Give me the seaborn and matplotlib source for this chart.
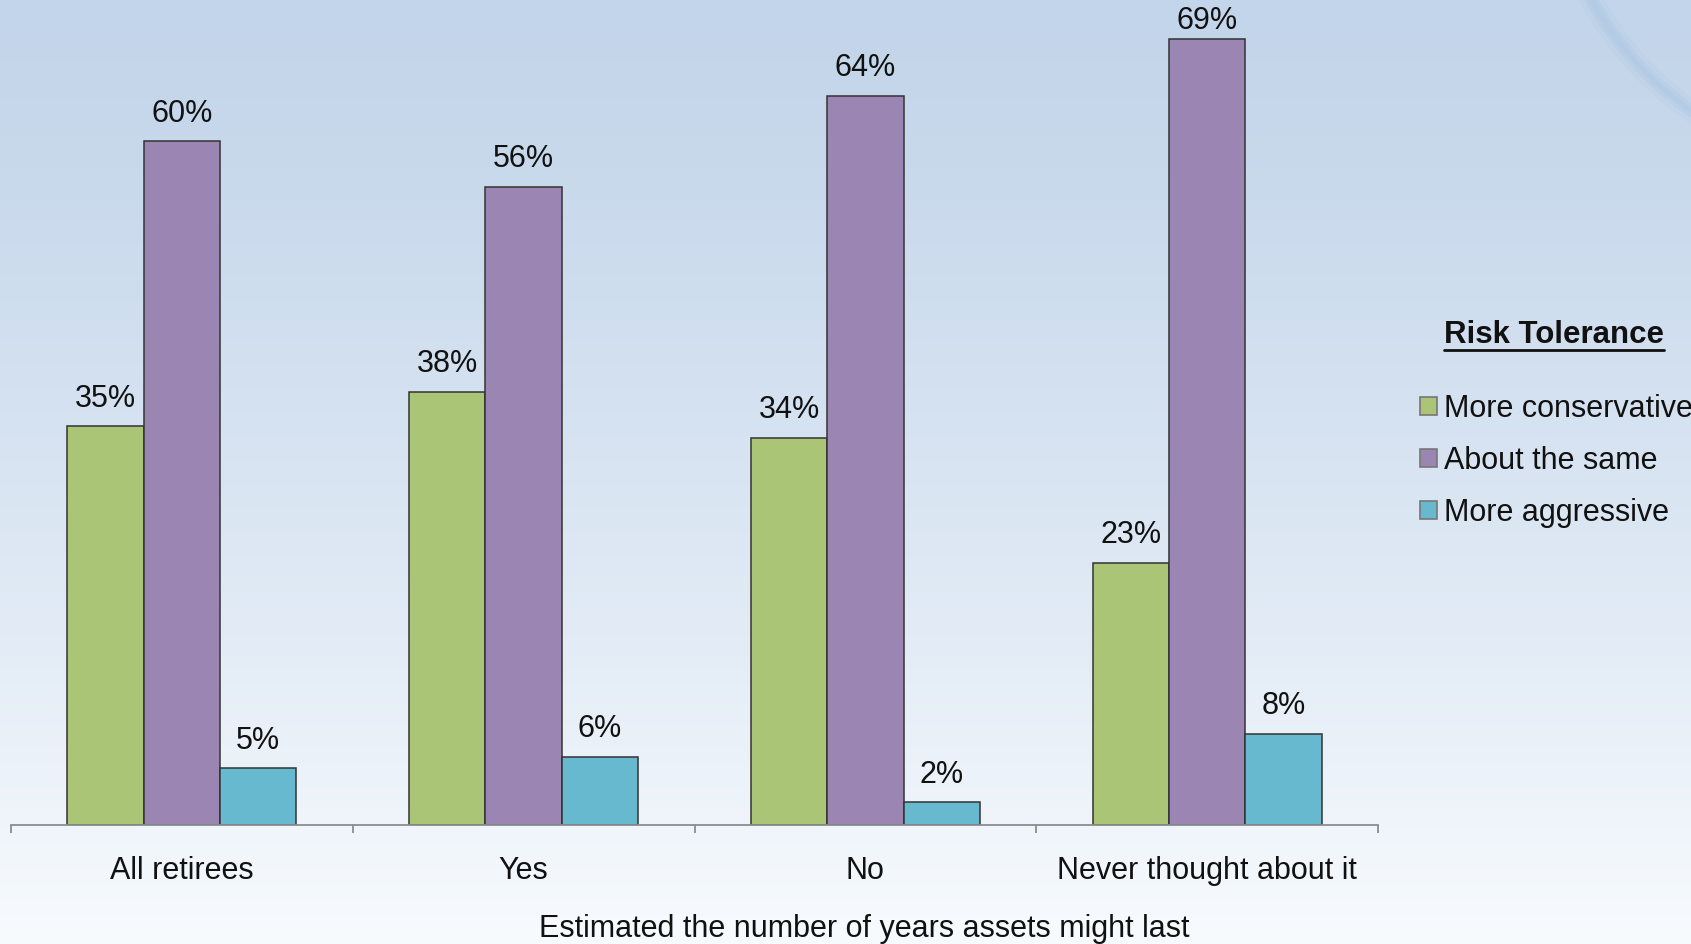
import numpy as np
import pandas as pd
import matplotlib.pyplot as plt
import seaborn as sns
from matplotlib.lines import Line2D
from matplotlib.patches import Circle

# Chart data
groups = ["All retirees", "Yes", "No", "Never thought about it"]
series = ["More conservative", "About the same", "More aggressive"]
more_conservative = [35, 38, 34, 23]
about_same = [60, 56, 64, 69]
more_aggressive = [5, 6, 2, 8]
colors = ["#abc577", "#9b85b3", "#67b9cf"]

df = pd.DataFrame({
    "group": groups * 3,
    "tolerance": [series[0]] * 4 + [series[1]] * 4 + [series[2]] * 4,
    "pct": more_conservative + about_same + more_aggressive,
})

sns.set_style("white")
plt.rcParams["font.family"] = ["Liberation Sans", "DejaVu Sans"]

fig = plt.figure(figsize=(16.91, 9.44), dpi=100)

# Background gradient (light blue at top fading to white)
bg = fig.add_axes([0, 0, 1, 1], zorder=-10)
t = np.linspace(0, 1, 400)[:, None] ** 1.3
top = np.array([195, 213, 234]) / 255
bot = np.array([248, 251, 254]) / 255
grad = top + (bot - top) * t[..., None]
grad = np.repeat(grad, 10, axis=1)
bg.imshow(grad, aspect="auto", extent=[0, 1691, 944, 0])
for lw, a in [(16, 0.15), (9, 0.25), (4, 0.3)]:
    bg.add_patch(Circle((1880, -160), 330, fill=False, lw=lw, ec="#a8c5e3", alpha=a))
bg.set_xlim(0, 1691)
bg.set_ylim(944, 0)
bg.axis("off")

ax = fig.add_axes([11 / 1691, 119 / 944, (1378 - 11) / 1691, 825 / 944])
ax.set_facecolor("none")

sns.barplot(data=df, x="group", y="pct", hue="tolerance", order=groups,
            hue_order=series, palette=colors, saturation=1, width=0.67,
            edgecolor="#333333", linewidth=1.1, ax=ax)

value_labels = []
for cont in ax.containers:
    value_labels += ax.bar_label(cont, labels=[f"{v:.0f}%" for v in cont.datavalues],
                                 padding=9, fontsize=22, color="#111111")

ax.set_xlim(-0.5, 3.5)
ax.set_ylim(0, 72.4)
ax.set_yticks([])
ax.set_ylabel("")
ax.set_xlabel("")
for s in ["top", "right", "left"]:
    ax.spines[s].set_visible(False)
ax.spines["bottom"].set_color("#8c8c8c")
ax.spines["bottom"].set_linewidth(1.3)

ax.set_xticks(range(4))
ax.set_xticklabels(groups, fontsize=22, color="#111111")
ax.tick_params(axis="x", which="major", length=0, pad=22)
ax.set_xticks([-0.5, 0.5, 1.5, 2.5, 3.5], minor=True)
ax.tick_params(axis="x", which="minor", bottom=True, length=6, width=1.3,
               color="#8c8c8c", direction="out")

fig.text(864 / 1691, 1 - 929 / 944, "Estimated the number of years assets might last",
         ha="center", va="center", fontsize=22, color="#111111")

# Legend
handles, labels = ax.get_legend_handles_labels()
for h in handles:
    h.set_edgecolor("#777777")
    h.set_linewidth(1.2)
ax.get_legend().remove()
fig.legend(handles, labels, loc="upper left", bbox_to_anchor=(1420 / 1691, 1 - 394 / 944),
           frameon=False, fontsize=22, handlelength=0.55, handleheight=0.55,
           handletextpad=0.25, labelspacing=0.72, borderpad=0, borderaxespad=0,
           labelcolor="#111111")

title = fig.text(1554 / 1691, 1 - 335 / 944, "Risk Tolerance", ha="center", va="center",
                 fontsize=22.5, fontweight="bold", color="#111111")
fig.canvas.draw()
bb = title.get_window_extent().transformed(fig.transFigure.inverted())
y_ul = 1 - 350 / 944
fig.add_artist(Line2D([bb.x0, bb.x1], [y_ul, y_ul], transform=fig.transFigure,
                      color="#111111", lw=2))

# keep value labels clear of the top edge
renderer = fig.canvas.get_renderer()
for lab in value_labels:
    ext = lab.get_window_extent(renderer)
    overflow = ext.y1 - (fig.bbox.height - 6)
    if overflow > 0:
        dx, dy = lab.xyann
        lab.xyann = (dx, dy - overflow * 72 / fig.dpi)

fig.savefig("out.png", dpi=100)
